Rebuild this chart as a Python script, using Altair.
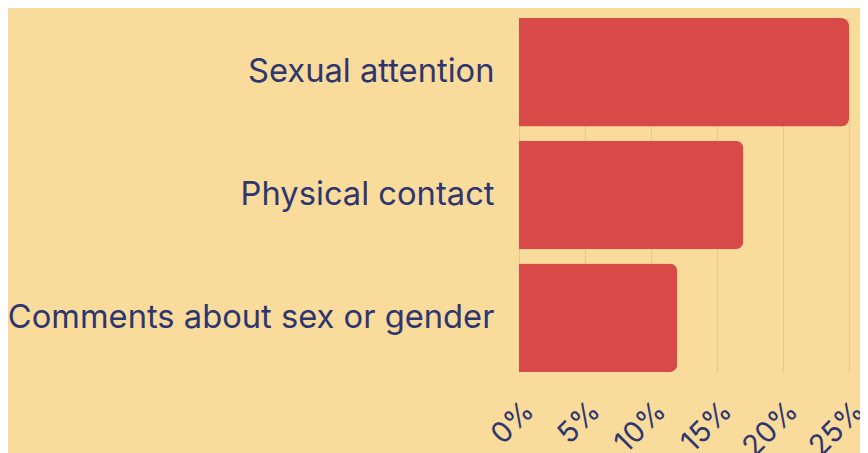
import altair as alt
import pandas as pd

categories = ["Sexual attention", "Physical contact", "Comments about sex or gender"]
values = [25, 17, 12]
tick_values = [0, 5, 10, 15, 20, 25]

df = pd.DataFrame({"category": categories, "value": values})

BG = "#F9DB9C"
TEXT = "#2E3670"
BAR = "#D84A48"
FONT = "Inter"

chart = alt.Chart(df).mark_bar(color=BAR, cornerRadiusEnd=8).encode(
    y=alt.Y("category:N", sort=categories, title=None,
            scale=alt.Scale(paddingInner=0.115, paddingOuter=0),
            axis=alt.Axis(domain=False, ticks=False, labelPadding=25,
                          labelFontSize=32.7, labelColor=TEXT, labelFont=FONT,
                          labelLimit=600, grid=False)),
    x=alt.X("value:Q", title=None,
            scale=alt.Scale(domain=[0, 25], nice=False),
            axis=alt.Axis(values=tick_values, labelExpr="datum.value + '%'",
                          domain=False, ticks=False, grid=True,
                          gridColor="#E6C78A", gridWidth=1,
                          labelAngle=-45, labelAlign="right", labelBaseline="top",
                          labelOverlap=False, labelBound=False,
                          labelFontSize=29, labelColor=TEXT, labelFont=FONT,
                          labelPadding=24)),
).properties(
    width=330, height=354, background=BG,
    padding={"left": 511, "top": 10, "right": 11, "bottom": 81},
    autosize=alt.AutoSizeParams(type="none"),
).configure_view(stroke=None)

chart.save("out.html", embed_options={"renderer": "svg", "actions": False})
